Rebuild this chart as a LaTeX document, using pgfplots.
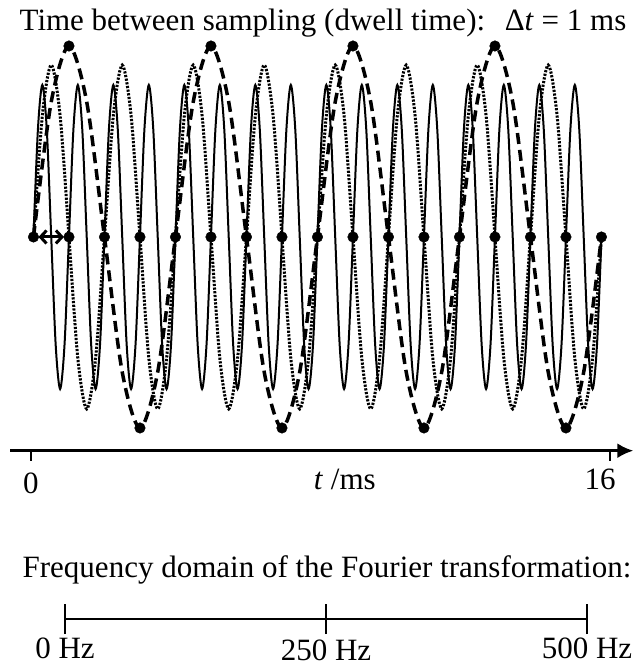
\documentclass[border=0pt]{standalone}
\usepackage{fontspec}
\setmainfont{Liberation Serif}
\usepackage{pgfplots}
\pgfplotsset{compat=1.18}
\usetikzlibrary{arrows.meta}
\begin{document}
\fontsize{31}{36}\selectfont
\begin{tikzpicture}[x=1pt,y=1pt]
\path[use as bounding box] (0,0) rectangle (641,664);
\node[anchor=base] at (323,633) {Time between sampling (dwell time):\hspace{0.3em} Δ\textit{t} = 1 ms};
\node[anchor=base] at (327,86) {Frequency domain of the Fourier transformation:};
\begin{axis}[at={(10.4pt,213.3pt)}, anchor=south west, scale only axis,
  width=623pt, height=404.7pt,
  xmin=-0.65, xmax=16.9, ymin=-1.119, ymax=1, clip=false,
  axis x line=bottom, axis y line=none,
  x axis line style={-{Latex[length=16pt,width=15pt]}, line width=3pt},
  xtick={-0.07,16.24}, xticklabels={,}, tick align=outside,
  major tick length=10pt, tick style={black, line width=2pt}]
% solid: 1000 Hz
\addplot[black, line width=2pt, smooth] coordinates {
(0,0)(0.125,0.563)(0.25,0.796)(0.375,0.563)(0.5,0)(0.625,-0.563)(0.75,-0.796)(0.875,-0.563)
(1,0)(1.125,0.563)(1.25,0.796)(1.375,0.563)(1.5,0)(1.625,-0.563)(1.75,-0.796)(1.875,-0.563)
(2,0)(2.125,0.563)(2.25,0.796)(2.375,0.563)(2.5,0)(2.625,-0.563)(2.75,-0.796)(2.875,-0.563)
(3,0)(3.125,0.563)(3.25,0.796)(3.375,0.563)(3.5,0)(3.625,-0.563)(3.75,-0.796)(3.875,-0.563)
(4,0)(4.125,0.563)(4.25,0.796)(4.375,0.563)(4.5,0)(4.625,-0.563)(4.75,-0.796)(4.875,-0.563)
(5,0)(5.125,0.563)(5.25,0.796)(5.375,0.563)(5.5,0)(5.625,-0.563)(5.75,-0.796)(5.875,-0.563)
(6,0)(6.125,0.563)(6.25,0.796)(6.375,0.563)(6.5,0)(6.625,-0.563)(6.75,-0.796)(6.875,-0.563)
(7,0)(7.125,0.563)(7.25,0.796)(7.375,0.563)(7.5,0)(7.625,-0.563)(7.75,-0.796)(7.875,-0.563)
(8,0)(8.125,0.563)(8.25,0.796)(8.375,0.563)(8.5,0)(8.625,-0.563)(8.75,-0.796)(8.875,-0.563)
(9,0)(9.125,0.563)(9.25,0.796)(9.375,0.563)(9.5,0)(9.625,-0.563)(9.75,-0.796)(9.875,-0.563)
(10,0)(10.125,0.563)(10.25,0.796)(10.375,0.563)(10.5,0)(10.625,-0.563)(10.75,-0.796)(10.875,-0.563)
(11,0)(11.125,0.563)(11.25,0.796)(11.375,0.563)(11.5,0)(11.625,-0.563)(11.75,-0.796)(11.875,-0.563)
(12,0)(12.125,0.563)(12.25,0.796)(12.375,0.563)(12.5,0)(12.625,-0.563)(12.75,-0.796)(12.875,-0.563)
(13,0)(13.125,0.563)(13.25,0.796)(13.375,0.563)(13.5,0)(13.625,-0.563)(13.75,-0.796)(13.875,-0.563)
(14,0)(14.125,0.563)(14.25,0.796)(14.375,0.563)(14.5,0)(14.625,-0.563)(14.75,-0.796)(14.875,-0.563)
(15,0)(15.125,0.563)(15.25,0.796)(15.375,0.563)(15.5,0)(15.625,-0.563)(15.75,-0.796)(15.875,-0.563)
(16,0)};
% dotted: 500 Hz
\addplot[black, line width=3pt, dash pattern=on 2.2pt off 1.5pt, smooth] coordinates {
(0,0)(0.25,0.636)(0.5,0.9)(0.75,0.636)(1,0)(1.25,-0.636)(1.5,-0.9)(1.75,-0.636)
(2,0)(2.25,0.636)(2.5,0.9)(2.75,0.636)(3,0)(3.25,-0.636)(3.5,-0.9)(3.75,-0.636)
(4,0)(4.25,0.636)(4.5,0.9)(4.75,0.636)(5,0)(5.25,-0.636)(5.5,-0.9)(5.75,-0.636)
(6,0)(6.25,0.636)(6.5,0.9)(6.75,0.636)(7,0)(7.25,-0.636)(7.5,-0.9)(7.75,-0.636)
(8,0)(8.25,0.636)(8.5,0.9)(8.75,0.636)(9,0)(9.25,-0.636)(9.5,-0.9)(9.75,-0.636)
(10,0)(10.25,0.636)(10.5,0.9)(10.75,0.636)(11,0)(11.25,-0.636)(11.5,-0.9)(11.75,-0.636)
(12,0)(12.25,0.636)(12.5,0.9)(12.75,0.636)(13,0)(13.25,-0.636)(13.5,-0.9)(13.75,-0.636)
(14,0)(14.25,0.636)(14.5,0.9)(14.75,0.636)(15,0)(15.25,-0.636)(15.5,-0.9)(15.75,-0.636)
(16,0)};
% dashed: 250 Hz
\addplot[black, line width=3.5pt, dash pattern=on 11pt off 6pt, smooth] coordinates {
(0,0)(0.5,0.707)(1,1)(1.5,0.707)(2,0)(2.5,-0.707)(3,-1)(3.5,-0.707)
(4,0)(4.5,0.707)(5,1)(5.5,0.707)(6,0)(6.5,-0.707)(7,-1)(7.5,-0.707)
(8,0)(8.5,0.707)(9,1)(9.5,0.707)(10,0)(10.5,-0.707)(11,-1)(11.5,-0.707)
(12,0)(12.5,0.707)(13,1)(13.5,0.707)(14,0)(14.5,-0.707)(15,-1)(15.5,-0.707)
(16,0)};
% samples
\addplot[only marks, mark=*, mark size=5.3pt, black] coordinates {
(0,0)(1,0)(2,0)(3,0)(4,0)(5,0)(6,0)(7,0)(8,0)(9,0)(10,0)(11,0)(12,0)(13,0)(14,0)(15,0)(16,0)
(1,1)(3,-1)(5,1)(7,-1)(9,1)(11,-1)(13,1)(15,-1)};
\draw[{Straight Barb[length=6pt,width=13pt]}-{Straight Barb[length=6pt,width=13pt]}, line width=3pt, shorten <=5pt, shorten >=5pt] (axis cs:0,0) -- (axis cs:1,0);
\node[anchor=base, yshift=-43pt] at (axis cs:-0.07,-1.119) {0};
\node[anchor=base, yshift=-39pt] at (axis cs:15.96,-1.119) {16};
\node[anchor=base, yshift=-39pt] at (axis cs:8.77,-1.119) {\textit{t} /ms};
\end{axis}
\begin{axis}[at={(65pt,40pt)}, anchor=south west, scale only axis,
  width=522pt, height=10pt, xmin=0, xmax=500, ymin=-1, ymax=1, clip=false,
  axis x line=center, axis y line=none,
  x axis line style={-, line width=2.5pt},
  xtick={0,250,500}, xticklabels={,,}, tick align=center,
  major tick length=30pt, tick style={black, line width=1.5pt}]
\node[anchor=base, inner sep=0pt, yshift=-40pt] at (axis cs:0,0) {0 Hz};
\node[anchor=base, inner sep=0pt, yshift=-42pt] at (axis cs:250,0) {250 Hz};
\node[anchor=base, inner sep=0pt, yshift=-40pt] at (axis cs:500,0) {500 Hz};
\end{axis}
\end{tikzpicture}
\end{document}
